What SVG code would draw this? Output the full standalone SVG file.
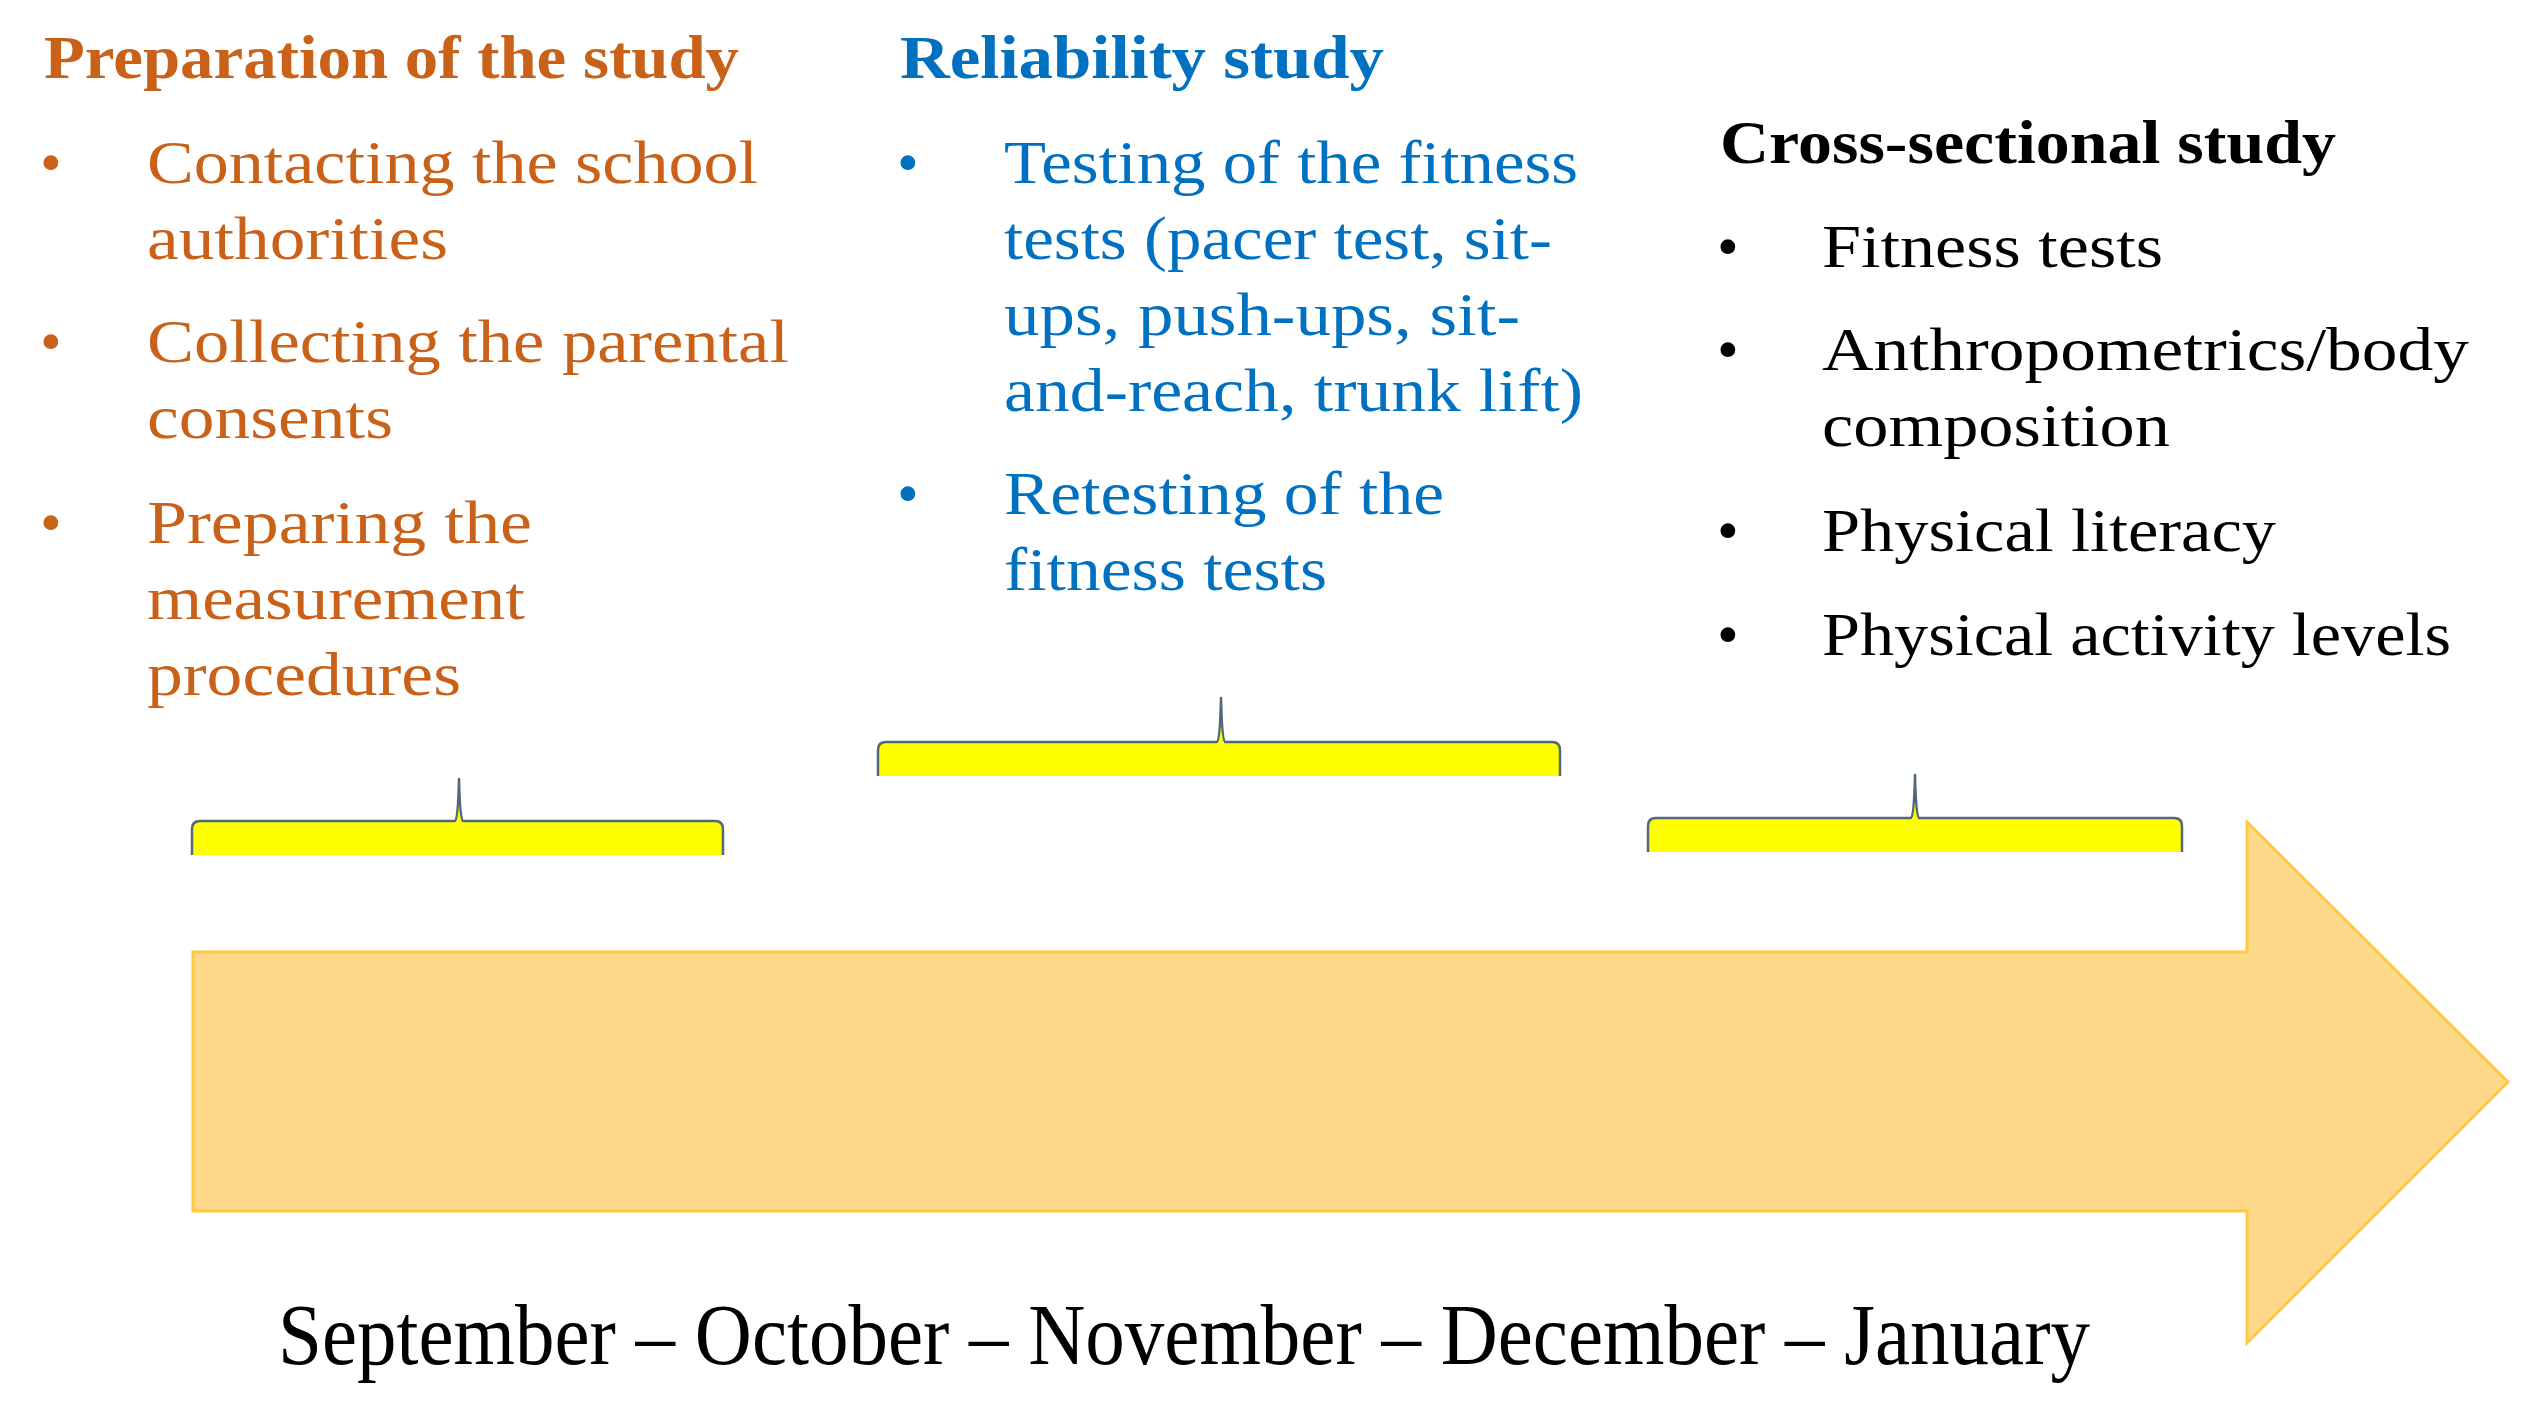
<svg xmlns="http://www.w3.org/2000/svg" width="2535" height="1423" viewBox="0 0 2535 1423">
<style>
  text { font-family: "Liberation Serif", "Times New Roman", serif; font-size: 62px; }
  .title { font-weight: bold; }
  .orange { fill: #C96119; }
  .blue { fill: #0070C0; }
  .black { fill: #000000; }
  .bracefill { fill: #FFFF00; stroke: none; }
  .braceline { fill: none; stroke: #52687A; stroke-width: 2.5; stroke-linejoin: round; }
  .months { font-size: 86px; }
</style>
<rect x="0" y="0" width="2535" height="1423" fill="#FFFFFF"/>

<g id="timeline-arrow">
  <path d="M193,952 H2247 V822 L2508,1082 L2247,1343 V1211 H193 Z" fill="#FFD98A" stroke="#FFC845" stroke-width="3"/>
</g>

<g id="connectors">
  <g id="brace-preparation">
    <path class="bracefill" d="M192,855 V829 Q192,821 200,821 H455 Q458,821 459,779 Q460,821 463,821 H715 Q723,821 723,829 V855 Z"/>
    <path class="braceline" d="M192,855 V829 Q192,821 200,821 H455 Q458,821 459,779 Q460,821 463,821 H715 Q723,821 723,829 V855"/>
  </g>
  <g id="brace-reliability">
    <path class="bracefill" d="M878,776 V750 Q878,742 886,742 H1217 Q1220,742 1221,698 Q1222,742 1225,742 H1552 Q1560,742 1560,750 V776 Z"/>
    <path class="braceline" d="M878,776 V750 Q878,742 886,742 H1217 Q1220,742 1221,698 Q1222,742 1225,742 H1552 Q1560,742 1560,750 V776"/>
  </g>
  <g id="brace-crosssectional">
    <path class="bracefill" d="M1648,852 V826 Q1648,818 1656,818 H1911 Q1914,818 1915,775 Q1916,818 1919,818 H2174 Q2182,818 2182,826 V852 Z"/>
    <path class="braceline" d="M1648,852 V826 Q1648,818 1656,818 H1911 Q1914,818 1915,775 Q1916,818 1919,818 H2174 Q2182,818 2182,826 V852"/>
  </g>
</g>

<g id="node-preparation">
  <text class="title orange" x="44" y="78" textLength="695" lengthAdjust="spacingAndGlyphs">Preparation of the study</text>
  <text class="orange" x="40" y="183">•</text>
  <text class="orange" x="147" y="183" textLength="611" lengthAdjust="spacingAndGlyphs">Contacting the school</text>
  <text class="orange" x="147" y="259" textLength="301" lengthAdjust="spacingAndGlyphs">authorities</text>
  <text class="orange" x="40" y="362">•</text>
  <text class="orange" x="147" y="362" textLength="642" lengthAdjust="spacingAndGlyphs">Collecting the parental</text>
  <text class="orange" x="147" y="438" textLength="246" lengthAdjust="spacingAndGlyphs">consents</text>
  <text class="orange" x="40" y="543">•</text>
  <text class="orange" x="147" y="543" textLength="385" lengthAdjust="spacingAndGlyphs">Preparing the</text>
  <text class="orange" x="147" y="619" textLength="378" lengthAdjust="spacingAndGlyphs">measurement</text>
  <text class="orange" x="147" y="695" textLength="314" lengthAdjust="spacingAndGlyphs">procedures</text>
</g>

<g id="node-reliability">
  <text class="title blue" x="900" y="78" textLength="484" lengthAdjust="spacingAndGlyphs">Reliability study</text>
  <text class="blue" x="897" y="183">•</text>
  <text class="blue" x="1004" y="183" textLength="574" lengthAdjust="spacingAndGlyphs">Testing of the fitness</text>
  <text class="blue" x="1004" y="259" textLength="548" lengthAdjust="spacingAndGlyphs">tests (pacer test, sit-</text>
  <text class="blue" x="1004" y="335" textLength="516" lengthAdjust="spacingAndGlyphs">ups, push-ups, sit-</text>
  <text class="blue" x="1004" y="411" textLength="579" lengthAdjust="spacingAndGlyphs">and-reach, trunk lift)</text>
  <text class="blue" x="897" y="514">•</text>
  <text class="blue" x="1004" y="514" textLength="440" lengthAdjust="spacingAndGlyphs">Retesting of the</text>
  <text class="blue" x="1004" y="590" textLength="323" lengthAdjust="spacingAndGlyphs">fitness tests</text>
</g>

<g id="node-crosssectional">
  <text class="title black" x="1720" y="163" textLength="616" lengthAdjust="spacingAndGlyphs">Cross-sectional study</text>
  <text class="black" x="1717" y="267">•</text>
  <text class="black" x="1822" y="267" textLength="341" lengthAdjust="spacingAndGlyphs">Fitness tests</text>
  <text class="black" x="1717" y="370">•</text>
  <text class="black" x="1822" y="370" textLength="647" lengthAdjust="spacingAndGlyphs">Anthropometrics/body</text>
  <text class="black" x="1822" y="446" textLength="348" lengthAdjust="spacingAndGlyphs">composition</text>
  <text class="black" x="1717" y="551">•</text>
  <text class="black" x="1822" y="551" textLength="454" lengthAdjust="spacingAndGlyphs">Physical literacy</text>
  <text class="black" x="1717" y="655">•</text>
  <text class="black" x="1822" y="655" textLength="629" lengthAdjust="spacingAndGlyphs">Physical activity levels</text>
</g>

<g id="node-months">
  <text class="months black" x="278" y="1364" textLength="1812" lengthAdjust="spacingAndGlyphs">September – October – November – December – January</text>
</g>
</svg>
